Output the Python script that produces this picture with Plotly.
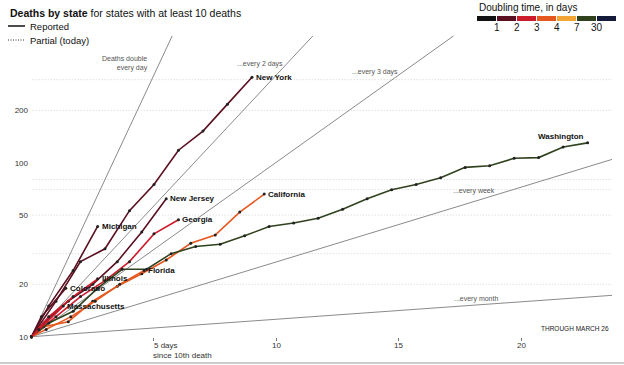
import math
import plotly.graph_objects as go

# ---------------- data ----------------
ny_days = [0, 1, 2, 3, 4, 5, 6, 7, 8, 9]
ny_deaths = [10, 16, 27, 32, 53, 75, 118, 152, 217, 310]

mi_days = [0, 0.7, 1.7, 2.7]
mi_deaths = [10, 15, 24, 43]

nj_days = [0, 0.5, 1.5, 2.5, 3.5, 4.5, 5.5]
nj_deaths = [10, 12, 16, 20, 27, 40, 62]

ga_days = [0, 1, 2, 3, 4, 5, 6]
ga_deaths = [10, 13, 17, 21, 27, 39, 47]

ca_days = [0, 0.5, 1.5, 2.5, 3.5, 4.5, 5.5, 6.5, 7.5, 8.5, 9.5]
ca_deaths = [10, 11.4, 12.2, 16, 19.5, 23, 27.6, 34.4, 38.4, 52, 66]

wa_days = [0, 0.7, 1.7, 2.7, 3.7, 4.7, 5.7, 6.7, 7.7, 8.7, 9.7, 10.7,
           11.7, 12.7, 13.7, 14.7, 15.7, 16.7, 17.7, 18.7, 19.7, 20.7, 21.7, 22.7]
wa_deaths = [10, 12, 14, 19, 24.4, 24.4, 30, 33, 34, 38, 43, 45,
             48, 54, 62, 70, 75, 82, 94, 96, 106, 107, 123, 130]

fl_days = [0, 0.6, 1.6, 2.6, 3.6, 4.6]
fl_deaths = [10, 11, 13, 16, 20, 24]

il_days = [0, 0.7, 1.7, 2.7]
il_deaths = [10, 13, 17, 21.5]

co_days = [0, 0.4, 1.4]
co_deaths = [10, 13, 19]

ma_days = [0, 0.3, 1.3]
ma_deaths = [10, 11, 15]

state_names = ["New York", "Michigan", "New Jersey", "Georgia", "California",
               "Washington", "Florida", "Illinois", "Colorado", "Massachusetts"]
state_days = [ny_days, mi_days, nj_days, ga_days, ca_days,
              wa_days, fl_days, il_days, co_days, ma_days]
state_deaths = [ny_deaths, mi_deaths, nj_deaths, ga_deaths, ca_deaths,
                wa_deaths, fl_deaths, il_deaths, co_deaths, ma_deaths]

guide_doubling = [1, 2, 3, 7, 30]
guide_labels = ["Deaths double<br>every day", "...every 2 days", "...every 3 days",
                "...every week", "...every month"]

bin_edges = [1, 2, 3, 4, 7, 30]
bin_labels = ["1", "2", "3", "4", "7", "30"]
bin_colors = ["#111111", "#5a1020", "#cc1b2b", "#e5571f", "#f2a533", "#2f421d", "#141a3a"]

y_tick_vals = [10, 20, 50, 100, 200]
grid_vals = [20, 30, 50, 70, 80, 200, 300]
x_tick_vals = [5, 10, 15, 20]
x_tick_text = ["5 days", "10", "15", "20"]

# ---------------- layout geometry ----------------
W, H = 624, 365
L, R, T, B = 31, 12, 0, 28
PW, PH = W - L - R, H - T - B
X_RANGE = [-0.02, -0.02 + PW / 24.5]
Y_TOP = 1 + 336.7 / 174
Y_RANGE = [Y_TOP - PH / 174, Y_TOP]
Y_CAP = 535
FONT = "Liberation Sans, Arial"


def px(x):
    return (x - L) / PW


def py(y):
    return 1 - (y - T) / PH


def color_for(d):
    for edge, c in zip(bin_edges, bin_colors):
        if d < edge:
            return c
    return bin_colors[-1]


def current_doubling(xs, ys):
    """Days it took the latest total to double (looking back to half of it)."""
    target = ys[-1] / 2
    for i in range(len(xs) - 1, 0, -1):
        if ys[i - 1] <= target <= ys[i]:
            f = math.log(target / ys[i - 1]) / math.log(ys[i] / ys[i - 1])
            return xs[-1] - (xs[i - 1] + f * (xs[i] - xs[i - 1]))
    return xs[-1] * math.log(2) / math.log(ys[-1] / ys[0])


fig = go.Figure()

# dotted grid lines
for g in grid_vals:
    fig.add_shape(type="line", xref="x", yref="y", x0=0.05, x1=X_RANGE[1], y0=g, y1=g,
                  line=dict(color="#d2d2d2", width=1, dash="1px,2px"), layer="below")

# doubling guide lines
for d in guide_doubling:
    xe = min(X_RANGE[1], d * math.log2(Y_CAP / 10))
    fig.add_trace(go.Scatter(x=[0, xe], y=[10, 10 * 2 ** (xe / d)], mode="lines",
                             line=dict(color="#8a8a8a", width=1), hoverinfo="skip",
                             showlegend=False, cliponaxis=False))

# state lines, coloured by current doubling time
for name, xs, ys in zip(state_names, state_days, state_deaths):
    c = color_for(current_doubling(xs, ys))
    fig.add_trace(go.Scatter(x=xs, y=ys, mode="lines+markers",
                             line=dict(color=c, width=1.6),
                             marker=dict(color="#222222", size=3),
                             hoverinfo="skip", showlegend=False, cliponaxis=False))

# state labels
for name, xs, ys in zip(state_names, state_days, state_deaths):
    if name == "Washington":
        fig.add_annotation(x=xs[-1], y=math.log10(ys[-1]), text=f"<b>{name}</b>",
                           showarrow=False, xanchor="right", yanchor="bottom",
                           xshift=-2, yshift=0,
                           font=dict(size=8, color="#111", family=FONT))
    else:
        fig.add_annotation(x=xs[-1], y=math.log10(ys[-1]), text=f"<b>{name}</b>",
                           showarrow=False, xanchor="left", yanchor="middle", xshift=2,
                           font=dict(size=8, color="#111", family=FONT))

# guide labels
guide_pos = [(150, 63, "right"), (285, 64, "right"), (400, 72, "right"),
             (497, 191, "right"), (500, 299, "right")]
for (gx, gy, anc), txt in zip(guide_pos, guide_labels):
    fig.add_annotation(xref="paper", yref="paper", x=px(gx), y=py(gy), text=txt,
                       showarrow=False, xanchor=anc, yanchor="middle", align="right",
                       font=dict(size=7, color="#555", family=FONT))

# title & line legend
fig.add_annotation(xref="paper", yref="paper", x=px(8), y=py(13),
                   text="<b>Deaths by state</b> for states with at least 10 deaths",
                   showarrow=False, xanchor="left", yanchor="middle",
                   font=dict(size=10.5, color="#111", family=FONT))
fig.add_shape(type="line", xref="paper", yref="paper", x0=px(8), x1=px(25),
              y0=py(26), y1=py(26), line=dict(color="#111", width=1.5))
fig.add_shape(type="line", xref="paper", yref="paper", x0=px(8), x1=px(25),
              y0=py(40), y1=py(40), line=dict(color="#333", width=1, dash="1px,1.5px"))
fig.add_annotation(xref="paper", yref="paper", x=px(28), y=py(26), text="Reported",
                   showarrow=False, xanchor="left", yanchor="middle",
                   font=dict(size=9.5, color="#111", family=FONT))
fig.add_annotation(xref="paper", yref="paper", x=px(28), y=py(40), text="Partial (today)",
                   showarrow=False, xanchor="left", yanchor="middle",
                   font=dict(size=9.5, color="#111", family=FONT))

# colour key
fig.add_annotation(xref="paper", yref="paper", x=px(477), y=py(7),
                   text="Doubling time, in days", showarrow=False,
                   xanchor="left", yanchor="middle",
                   font=dict(size=10, color="#111", family=FONT))
kx0, kw = 477, 20
for i, c in enumerate(bin_colors):
    fig.add_shape(type="rect", xref="paper", yref="paper",
                  x0=px(kx0 + i * kw), x1=px(kx0 + (i + 1) * kw - 1),
                  y0=py(21), y1=py(16), fillcolor=c, line=dict(width=0))
for i, t in enumerate(bin_labels):
    fig.add_annotation(xref="paper", yref="paper", x=px(kx0 + (i + 1) * kw), y=py(28),
                       text=t, showarrow=False, xanchor="center", yanchor="middle",
                       font=dict(size=10, color="#111", family=FONT))

# x-axis labels
for v, t in zip(x_tick_vals, x_tick_text):
    fig.add_annotation(x=v, xref="x", yref="paper", y=py(345), text=t, showarrow=False,
                       xanchor="left" if v == 5 else "center", xshift=-2 if v == 5 else 0,
                       yanchor="middle", font=dict(size=8, color="#333", family=FONT))

# notes
fig.add_annotation(xref="paper", yref="paper", x=px(611), y=py(328),
                   text="THROUGH MARCH 26", showarrow=False, xanchor="right",
                   yanchor="middle", font=dict(size=6.5, color="#222", family=FONT))
fig.add_annotation(xref="paper", yref="paper", x=px(151), y=py(355),
                   text="since 10th death", showarrow=False, xanchor="left",
                   yanchor="middle", font=dict(size=8, color="#333", family=FONT))
fig.add_shape(type="line", xref="paper", yref="paper", x0=px(0), x1=px(W),
              y0=py(363), y1=py(363), line=dict(color="#bbbbbb", width=1.5))

fig.update_layout(
    width=W, height=H, margin=dict(l=L, r=R, t=T, b=B, autoexpand=False),
    paper_bgcolor="white", plot_bgcolor="white", showlegend=False,
    xaxis=dict(range=X_RANGE, tickvals=x_tick_vals, ticktext=["", "", "", ""],
               showgrid=False, zeroline=False, showline=False, ticks="outside",
               ticklen=3, tickcolor="#777", fixedrange=True),
    yaxis=dict(type="log", range=Y_RANGE, tickvals=y_tick_vals,
               ticktext=[str(v) for v in y_tick_vals], showgrid=False, zeroline=False,
               showline=False, ticks="", ticklabelstandoff=2,
               tickfont=dict(size=8, color="#333", family=FONT),
               fixedrange=True),
)

fig.write_html("out.html", config={"displayModeBar": False},
               post_script="document.body.style.margin='0';document.body.style.overflow='hidden';")
